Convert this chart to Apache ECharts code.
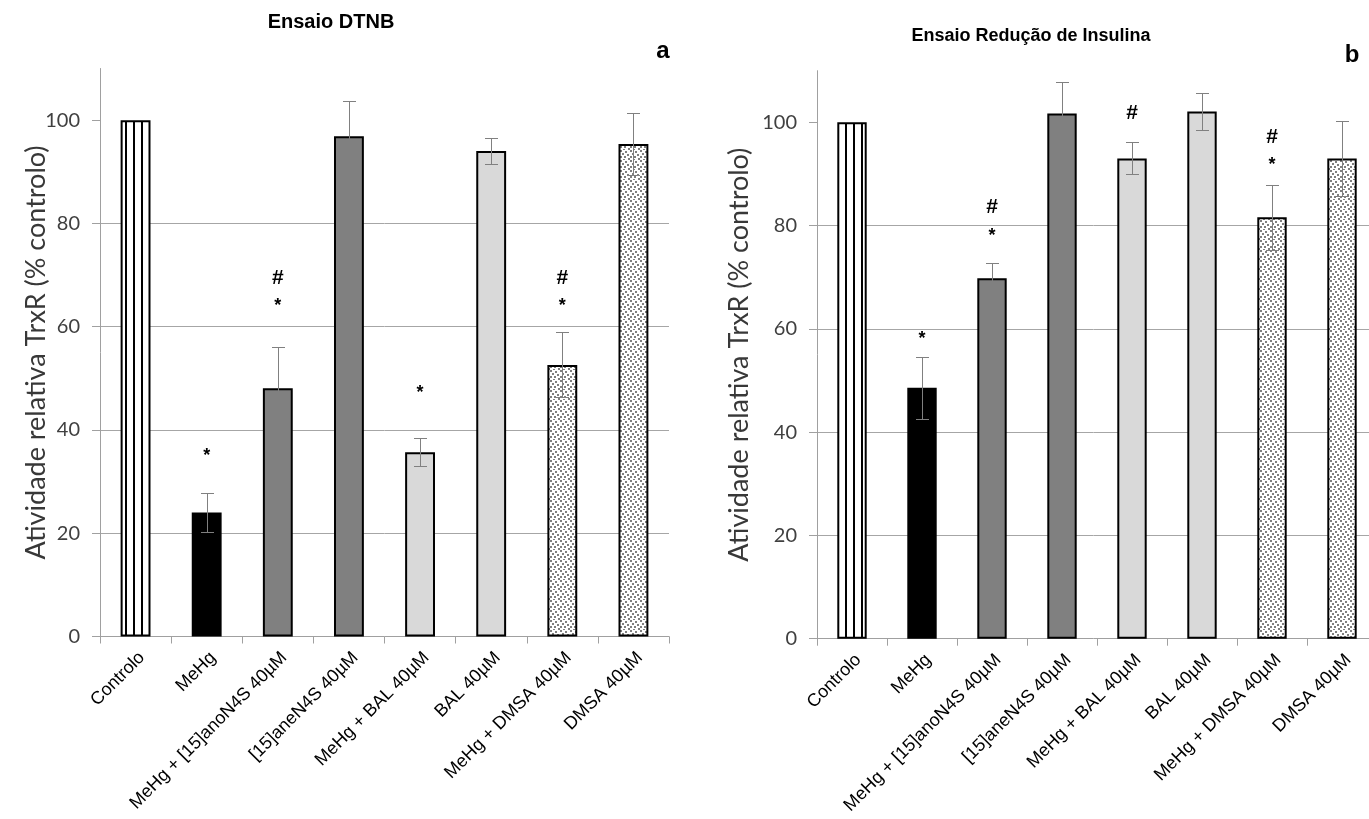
<!DOCTYPE html>
<html><head><meta charset="utf-8">
<script src="https://cdn.jsdelivr.net/npm/echarts@6/dist/echarts.min.js"></script>
<style>html,body{margin:0;padding:0;background:#fff}#c{width:1369px;height:819px}</style>
</head><body><div id="c"></div>
<script>
// ---- data ----
const categories = ['Controlo', 'MeHg', 'MeHg + [15]anoN4S 40µM', '[15]aneN4S 40µM', 'MeHg + BAL 40µM', 'BAL 40µM', 'MeHg + DMSA 40µM', 'DMSA 40µM'];
const yTicks = [0, 20, 40, 60, 80, 100];
const dtnbMean = [100, 24.0, 48.1, 96.9, 35.7, 94.0, 52.6, 95.4];
const dtnbErr  = [0, 3.7, 8.0, 6.8, 2.7, 2.5, 6.3, 6.0];
const insMean  = [100, 48.6, 69.8, 101.7, 93.0, 102.1, 81.6, 93.0];
const insErr   = [0, 6.0, 2.9, 6.2, 3.1, 3.6, 6.3, 7.2];
// significance marks: [category index, symbol, value level]
const dtnbMarks = [[1, '*', 35.7], [2, '#', 69.4], [2, '*', 64.8], [4, '*', 47.9], [6, '#', 69.4], [6, '*', 64.7]];
const insMarks  = [[1, '*', 58.8], [2, '#', 83.6], [2, '*', 78.7], [4, '#', 101.7], [6, '#', 97.2], [6, '*', 92.5]];
const yName = 'Atividade relativa TrxR (% controlo)';

// ---- styles ----
function stripePattern() {
  const c = document.createElement('canvas'); c.width = 8; c.height = 8;
  const g = c.getContext('2d');
  g.fillStyle = '#fff'; g.fillRect(0, 0, 8, 8);
  g.fillStyle = '#000'; g.fillRect(5, 0, 2, 8);
  return c;
}
function dotPattern() {
  const c = document.createElement('canvas'); c.width = 10; c.height = 10;
  const g = c.getContext('2d');
  g.fillStyle = '#fff'; g.fillRect(0, 0, 10, 10);
  g.fillStyle = '#7f7f7f';
  [[0,0],[5,1],[2,3],[7,4],[0,6],[4,6],[8,8],[3,9]].forEach(p => g.fillRect(p[0], p[1], 2, 2));
  return c;
}
const stripes = { image: stripePattern(), repeat: 'repeat' };
const dots = { image: dotPattern(), repeat: 'repeat' };
const fills = [stripes, '#000000', '#808080', '#808080', '#d9d9d9', '#d9d9d9', dots, dots];

const FONT_AX = 'Lato';
const FONT_TXT = '"Liberation Sans", Arial, sans-serif';

function barSeries(gi, means) {
  return {
    type: 'bar', xAxisIndex: gi, yAxisIndex: gi, barWidth: '42%', silent: true, z: 2,
    itemStyle: { borderColor: '#000', borderWidth: 2 },
    data: means.map((v, i) => ({ value: v, itemStyle: { color: fills[i] } }))
  };
}
function errSeries(gi, means, errs) {
  return {
    type: 'custom', xAxisIndex: gi, yAxisIndex: gi, silent: true, z: 5,
    data: means.map((v, i) => [i, v, errs[i]]),
    renderItem: function (p, api) {
      const i = api.value(0), m = api.value(1), e = api.value(2);
      if (!e) return null;
      const t = api.coord([i, m + e]), b = api.coord([i, m - e]);
      const x = Math.round(t[0]) + 0.5, w = 6.5;
      const st = { stroke: '#808080', lineWidth: 1 };
      return { type: 'group', children: [
        { type: 'line', shape: { x1: x, y1: Math.round(t[1]) + 0.5, x2: x, y2: Math.round(b[1]) + 0.5 }, style: st },
        { type: 'line', shape: { x1: x - w, y1: Math.round(t[1]) + 0.5, x2: x + w, y2: Math.round(t[1]) + 0.5 }, style: st },
        { type: 'line', shape: { x1: x - w, y1: Math.round(b[1]) + 0.5, x2: x + w, y2: Math.round(b[1]) + 0.5 }, style: st }
      ]};
    }
  };
}
function markSeries(gi, marks) {
  return {
    type: 'custom', xAxisIndex: gi, yAxisIndex: gi, silent: true, z: 6,
    data: marks.map(m => [m[0], m[2], m[1]]),
    renderItem: function (p, api) {
      const pt = api.coord([api.value(0), api.value(1)]);
      const sym = marks[p.dataIndex][1];
      const star = sym === '*';
      return { type: 'text', x: pt[0], y: pt[1] + (star ? 4 : 0),
        style: { text: sym, fill: '#000', align: 'center', verticalAlign: 'middle',
          font: 'bold ' + (star ? 18 : 21) + 'px ' + FONT_TXT } };
    }
  };
}
function xAxisCfg(gi) {
  return {
    type: 'category', gridIndex: gi, data: categories,
    axisLine: { show: true, lineStyle: { color: '#a0a0a0', width: 1 } },
    axisTick: { show: true, length: 7, lineStyle: { color: '#a0a0a0' } },
    axisLabel: { rotate: 45, interval: 0, fontSize: 18, fontFamily: FONT_TXT, color: '#000', margin: 12, verticalAlign: 'top' },
    splitLine: { show: false }
  };
}
function yAxisCfg(gi, gap) {
  return {
    type: 'value', gridIndex: gi, min: 0, max: 110, interval: 20,
    name: yName, nameLocation: 'middle', nameGap: gap, nameMoveOverlap: false,
    nameTextStyle: { fontSize: 27, color: '#383838', fontFamily: FONT_AX },
    axisLine: { show: true, lineStyle: { color: '#a0a0a0', width: 1 } },
    axisTick: { show: true, length: 8, lineStyle: { color: '#a0a0a0' }, customValues: yTicks },
    axisLabel: { fontSize: 20, color: '#404040', fontFamily: FONT_AX, margin: 20, customValues: yTicks },
    splitLine: { show: true, showMinLine: false, showMaxLine: false, lineStyle: { color: '#a6a6a6', width: 1 } }
  };
}
const chart = echarts.init(document.getElementById('c'), null, { renderer: 'canvas' });
chart.setOption({
  backgroundColor: '#fff',
  animation: false,
  grid: [
    { left: 100, top: 68.5, width: 569, height: 568, outerBoundsMode: 'none', containLabel: false },
    { left: 817, top: 70.7, width: 560, height: 568, outerBoundsMode: 'none', containLabel: false }
  ],
  xAxis: [xAxisCfg(0), xAxisCfg(1)],
  yAxis: [yAxisCfg(0, 50), yAxisCfg(1, 64)],
  graphic: [
    { type: 'text', x: 331, y: 22, style: { text: 'Ensaio DTNB', font: 'bold 20px ' + FONT_TXT, fill: '#000', align: 'center', verticalAlign: 'middle' } },
    { type: 'text', x: 663, y: 51, style: { text: 'a', font: 'bold 24px ' + FONT_TXT, fill: '#000', align: 'center', verticalAlign: 'middle' } },
    { type: 'text', x: 1031, y: 36, style: { text: 'Ensaio Redução de Insulina', font: 'bold 18px ' + FONT_TXT, fill: '#000', align: 'center', verticalAlign: 'middle' } },
    { type: 'text', x: 1352, y: 55, style: { text: 'b', font: 'bold 24px ' + FONT_TXT, fill: '#000', align: 'center', verticalAlign: 'middle' } }
  ],
  series: [
    barSeries(0, dtnbMean), errSeries(0, dtnbMean, dtnbErr), markSeries(0, dtnbMarks),
    barSeries(1, insMean), errSeries(1, insMean, insErr), markSeries(1, insMarks)
  ]
});
</script>
</body></html>
